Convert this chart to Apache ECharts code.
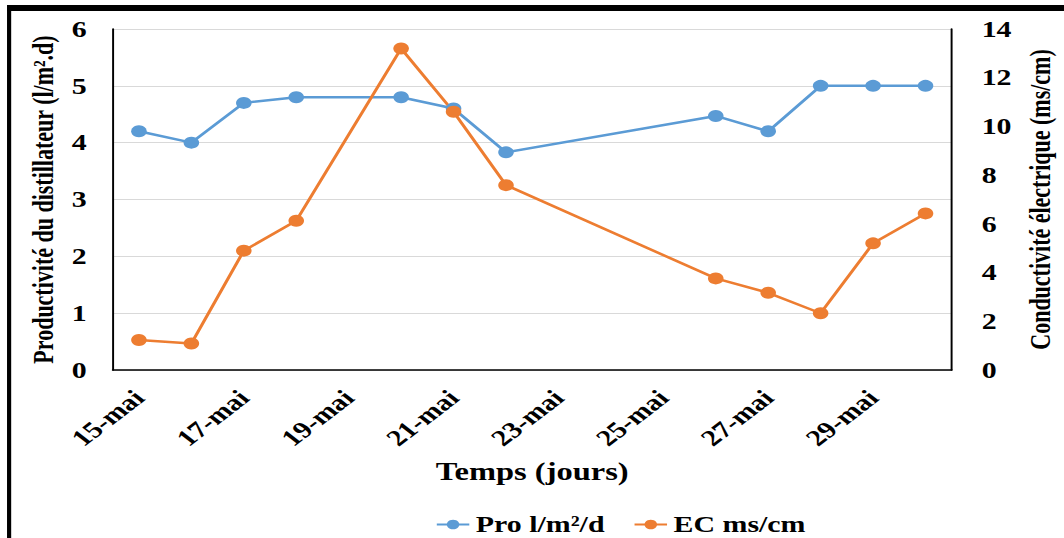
<!DOCTYPE html>
<html>
<head>
<meta charset="utf-8">
<script src="https://cdn.jsdelivr.net/npm/echarts@6/dist/echarts.min.js"></script>
<style>
  html, body { margin: 0; padding: 0; background: #fff; overflow: hidden; }
  /* The figure is laid out narrow and widened horizontally, as in the printed report */
  #chart { width: 818.5px; height: 538px; transform: scaleX(1.3); transform-origin: 0 0; }
</style>
</head>
<body>
<div id="chart"></div>
<script>
// Days of the measurement campaign (May)
const days = ['15-mai','16-mai','17-mai','18-mai','19-mai','20-mai','21-mai','22-mai',
              '23-mai','24-mai','25-mai','26-mai','27-mai','28-mai','29-mai','30-mai'];
// Distiller productivity (l/m².d); null = no measurement that day
const productivity = [4.2, 4.0, 4.7, 4.8, null, 4.8, 4.6, 3.83, null, null, null, 4.47, 4.2, 5.0, 5.0, 5.0];
// Electrical conductivity (ms/cm)
const conductivity = [1.23, 1.09, 4.9, 6.13, null, 13.2, 10.6, 7.59, null, null, null, 3.76, 3.17, 2.33, 5.2, 6.43];
const seriesNames = ['Pro l/m²/d', 'EC ms/cm'];

const FONT = '"Liberation Serif", "Times New Roman", serif';
const W = 818.5;

const chart = echarts.init(document.getElementById('chart'), null, { renderer: 'svg' });
chart.setOption({
  animation: false,
  backgroundColor: '#fff',
  textStyle: { fontFamily: FONT, fontWeight: 'bold', color: '#000' },
  graphic: [
    { type: 'rect', shape: { x: 5.4, y: 5, width: 3.2, height: 540 }, style: { fill: '#000' } },
    { type: 'rect', shape: { x: 5.4, y: 5, width: W, height: 6 }, style: { fill: '#000' } }
  ],
  grid: { left: 86.7, right: 86.2, top: 29, bottom: 168, containLabel: false },
  legend: {
    left: 330, top: 508,
    itemWidth: 25, itemHeight: 12, itemGap: 22,
    textStyle: { fontFamily: FONT, fontWeight: 'bold', fontSize: 23, color: '#000' },
    data: seriesNames
  },
  xAxis: {
    type: 'category',
    data: days,
    boundaryGap: true,
    name: 'Temps (jours)',
    nameLocation: 'middle',
    nameGap: 89,
    nameTextStyle: { fontFamily: FONT, fontWeight: 'bold', fontSize: 25, color: '#000' },
    axisLine: { lineStyle: { color: '#000', width: 1.5 } },
    axisTick: { show: false },
    axisLabel: { interval: 1, rotate: 45, margin: 24, fontFamily: FONT, fontWeight: 'bold', fontSize: 23, color: '#000' },
    splitLine: { show: false }
  },
  yAxis: [
    {
      type: 'value', min: 0, max: 6, interval: 1,
      name: 'Productivité du distillateur (l/m².d)',
      nameLocation: 'middle', nameGap: 38, nameRotate: 90,
      nameTextStyle: { fontFamily: FONT, fontWeight: 'bold', fontSize: 22, color: '#000' },
      axisLine: { show: true, lineStyle: { color: '#000', width: 1.5 } },
      axisTick: { show: false },
      axisLabel: { margin: 20, fontFamily: FONT, fontWeight: 'bold', fontSize: 23, color: '#000' },
      splitLine: { show: true, lineStyle: { color: '#d9d9d9', width: 1 } }
    },
    {
      type: 'value', min: 0, max: 14, interval: 2,
      name: 'Conductivité électrique (ms/cm)',
      nameLocation: 'middle', nameGap: 54, nameRotate: 90,
      nameTextStyle: { fontFamily: FONT, fontWeight: 'bold', fontSize: 22, color: '#000' },
      axisLine: { show: true, lineStyle: { color: '#000', width: 1.5 } },
      axisTick: { show: false },
      axisLabel: { margin: 23, fontFamily: FONT, fontWeight: 'bold', fontSize: 23, color: '#000' },
      splitLine: { show: false }
    }
  ],
  series: [
    {
      name: seriesNames[0], type: 'line', yAxisIndex: 0,
      data: productivity, connectNulls: true,
      symbol: 'circle', symbolSize: 12,
      lineStyle: { color: '#5B9BD5', width: 2.5 },
      itemStyle: { color: '#5B9BD5' }
    },
    {
      name: seriesNames[1], type: 'line', yAxisIndex: 1,
      data: conductivity, connectNulls: true,
      symbol: 'circle', symbolSize: 12,
      lineStyle: { color: '#ED7D31', width: 2.5 },
      itemStyle: { color: '#ED7D31' }
    }
  ]
});
</script>
</body>
</html>
